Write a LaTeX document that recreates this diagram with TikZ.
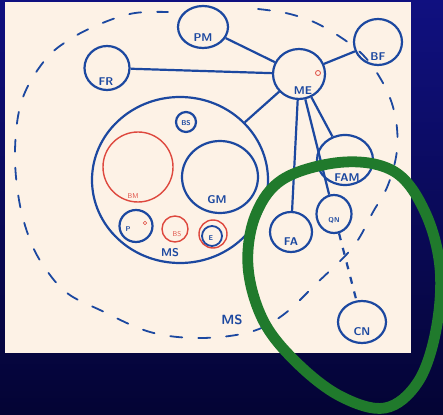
\documentclass[tikz,border=0pt]{standalone}
\usepackage{xcolor}
\usetikzlibrary{shapes.geometric, calc}
\definecolor{ink}{RGB}{28,72,160}
\definecolor{redink}{RGB}{222,72,62}
\definecolor{marker}{RGB}{32,122,44}
\definecolor{paper}{RGB}{253,242,230}
\definecolor{navytop}{RGB}{16,16,128}
\definecolor{navybot}{RGB}{4,4,52}

\begin{document}
\begin{tikzpicture}[
    x=0.5mm, y=-0.5mm,
    every node/.style={font=\sffamily\bfseries},
    circ/.style={draw=ink, line width=1.1mm, ellipse, inner sep=0pt},
    redcirc/.style={draw=redink, line width=0.7mm, ellipse, inner sep=0pt},
    lbl/.style={text=ink, font=\sffamily\bfseries\fontsize{16}{16}\selectfont, inner sep=0pt},
    smalllbl/.style={text=ink, font=\sffamily\bfseries\fontsize{10}{10}\selectfont, inner sep=0pt},
    redlbl/.style={text=redink, font=\sffamily\fontsize{10}{10}\selectfont, inner sep=0pt},
    link/.style={draw=ink, line width=1.1mm},
    outline/.style={draw=ink, line width=0.9mm, dash pattern=on 6mm off 8mm, line cap=round},
]
\useasboundingbox (0,0) rectangle (443,415);
\clip (0,0) rectangle (443,415);
% slide background and the sheet of paper
\fill[top color=navytop, bottom color=navybot] (0,0) rectangle (443,415);
\fill[paper] (5,2) rectangle (411,353);

% the outer (dashed) boundary
\draw[outline] plot[smooth, tension=0.6] coordinates {
  (258,9) (290,14) (322,26) (360,52) (383,83) (395,115) (397,150)
  (388,185) (373,212) (353,247) (317,283) (283,315) (250,332)
  (200,338) (150,332) (100,310) (67,293) (45,268) (30,240) (19,200)
  (15,150) (22,100) (45,60) (72,38) (105,22) (135,13) (168,12)};
\node[lbl, font=\sffamily\bfseries\fontsize{19}{19}\selectfont] (MSout) at (232,320) {MS};

% the circles
\node[circ, minimum width=25mm, minimum height=21mm] (PM) at (203,27) {};
\node[circ, minimum width=22.5mm, minimum height=22mm] (FR) at (107,68) {};
\node[circ, minimum width=26mm, minimum height=25mm] (ME) at (299,74) {};
\node[circ, minimum width=24mm, minimum height=23mm] (BF) at (378,42) {};
\node[circ, minimum width=88mm, minimum height=83mm] (MS) at (180,180) {};
\node[circ, minimum width=10mm, minimum height=10mm] (BS) at (186,122) {};
\node[redcirc, minimum width=35mm, minimum height=35mm] (BM) at (138,167) {};
\node[circ, minimum width=38mm, minimum height=36mm] (GM) at (220,177) {};
\node[circ, minimum width=16.5mm, minimum height=16mm] (P) at (136,226) {};
\node[redcirc, minimum width=13mm, minimum height=13mm] (BSr) at (175,229) {};
\node[redcirc, minimum width=14mm, minimum height=14mm] (E) at (213,234) {};
\node[circ, line width=0.9mm, minimum width=10mm, minimum height=10mm] (Ein) at (212,236) {};
\node[circ, minimum width=28mm, minimum height=25mm] (FAM) at (345,160) {};
\node[circ, minimum width=21mm, minimum height=20mm] (FA) at (291,232) {};
\node[circ, minimum width=17.5mm, minimum height=19mm] (QN) at (334,214) {};
\node[circ, minimum width=24mm, minimum height=21mm] (CN) at (362,322) {};
% small red marks
\node[redcirc, line width=0.4mm, minimum size=2.5mm] (MEo) at (318,73) {};
\node[redcirc, line width=0.3mm, minimum size=1.8mm] (Po) at (145,223) {};

% the labels
\node[lbl] (PM-t) at (203,38) {PM};
\node[lbl] (FR-t) at (106,82) {FR};
\node[lbl] (ME-t) at (303,91) {ME};
\node[lbl] (BF-t) at (378,57) {BF};
\node[smalllbl] (BS-t) at (186,123) {BS};
\node[redlbl] (BM-t) at (133,196) {BM};
\node[lbl] (GM-t) at (217,200) {GM};
\node[smalllbl] (P-t) at (128,229) {P};
\node[redlbl] (BSr-t) at (177,234) {BS};
\node[smalllbl] (E-t) at (211,238) {E};
\node[lbl] (MS-t) at (170,253) {MS};
\node[lbl] (FAM-t) at (347,178) {FAM};
\node[lbl] (FA-t) at (291,242) {FA};
\node[smalllbl] (QN-t) at (334,220) {QN};
\node[lbl] (CN-t) at (362,332) {CN};

% connectors
\draw[link] (PM) -- (ME);
\draw[link] (FR) -- (ME);
\draw[link] (ME) -- (BF);
\draw[link] (ME) -- (MS);
\draw[link] (ME) -- (FA);
\draw[link] (ME) -- (QN);
\draw[link] (ME) -- (FAM);
\draw[link, dash pattern=on 3.5mm off 4mm] (QN) -- (CN);

% the green marker loop
\draw[marker, line width=5.4mm, line cap=round] plot[smooth cycle, tension=0.6] coordinates {
  (345,162) (395,172) (425,212) (440,268) (436,330) (418,382)
  (385,408) (340,396) (296,362) (263,320) (248,266) (256,214) (285,178)};
\end{tikzpicture}
\end{document}
